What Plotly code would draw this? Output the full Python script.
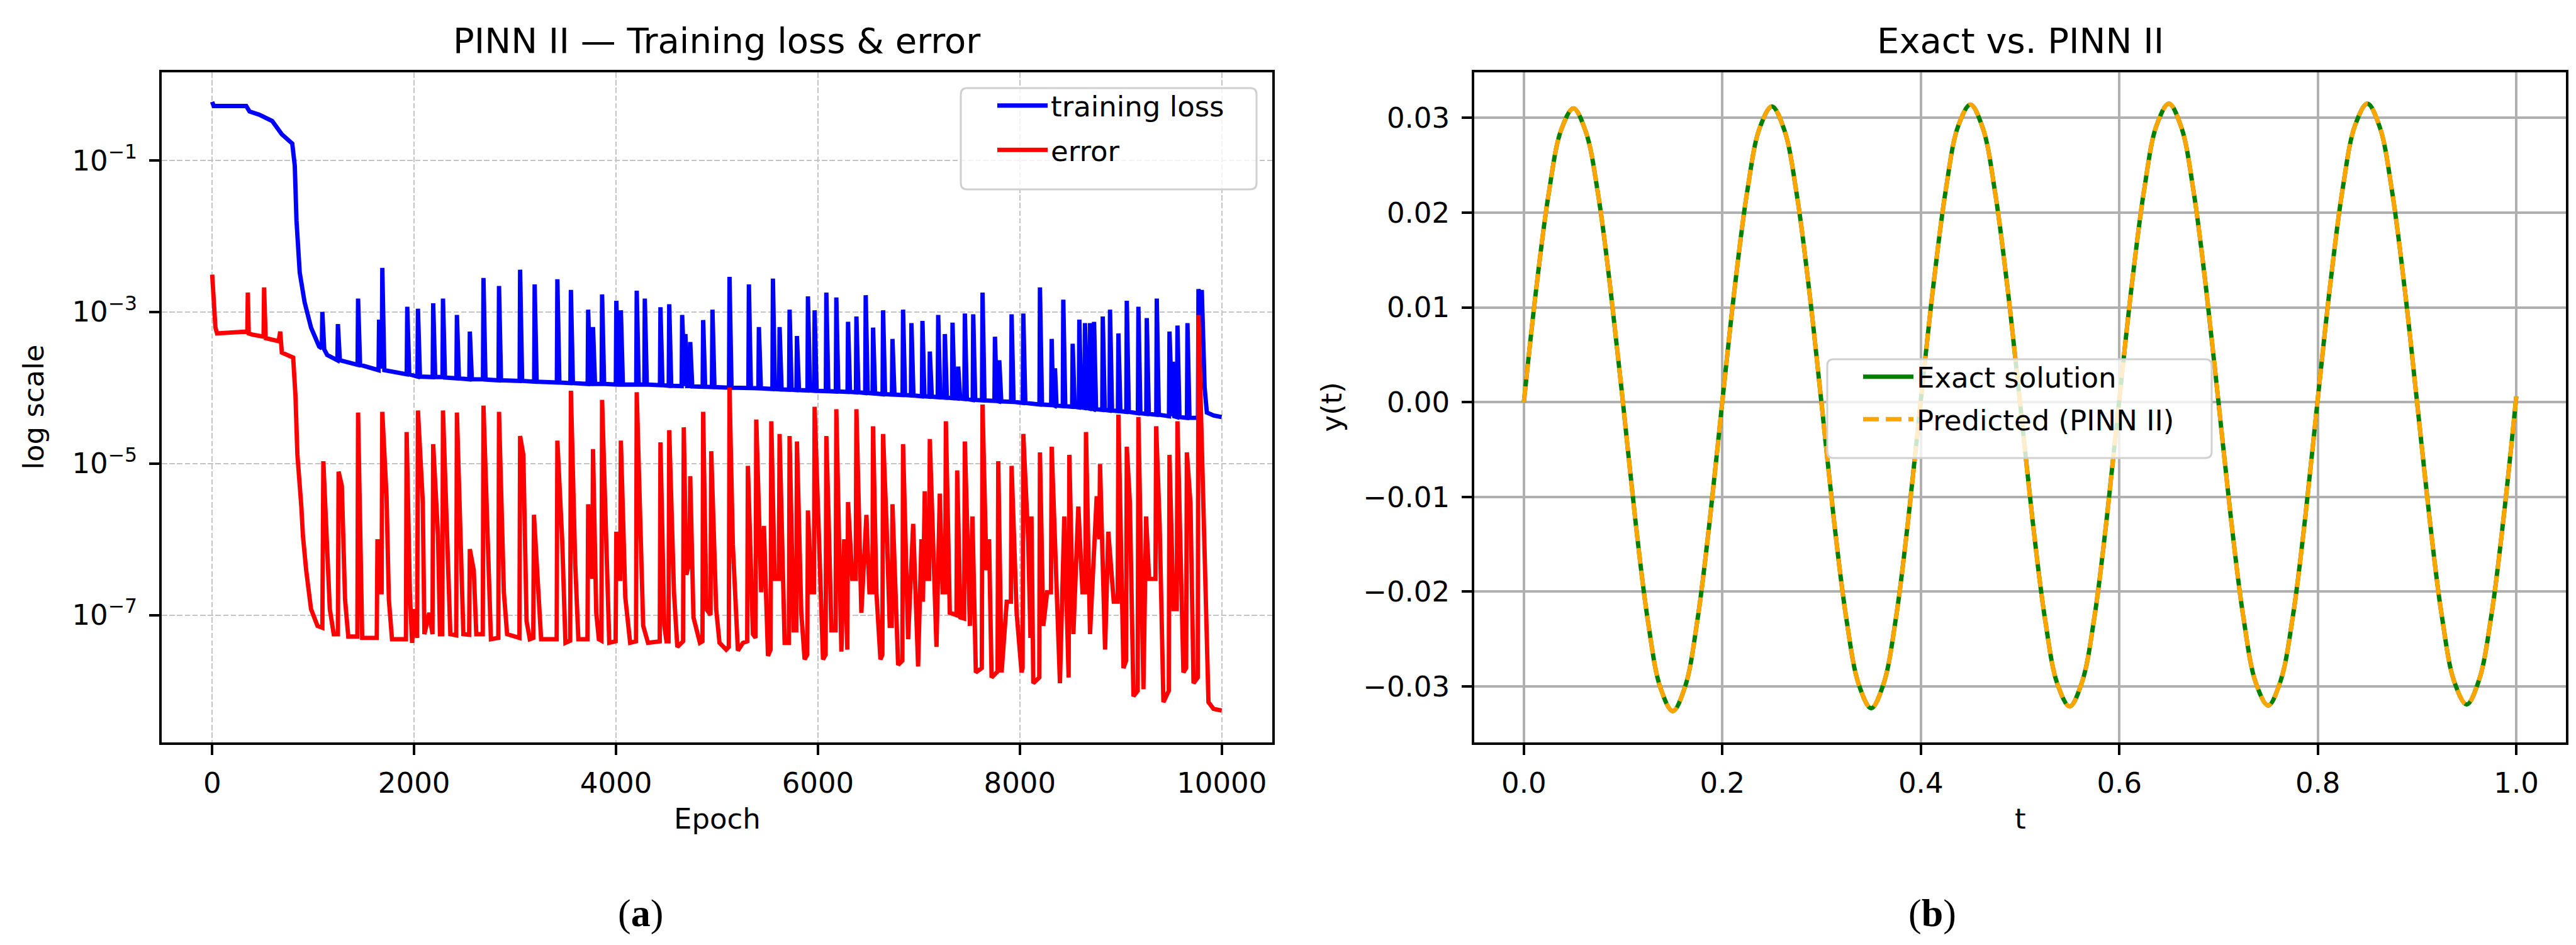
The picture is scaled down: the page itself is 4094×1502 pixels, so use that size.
import plotly.graph_objects as go

W, H = 4094, 1502

# ---------------- data ----------------
x_ticks_epoch = [0, 2000, 4000, 6000, 8000, 10000]
x_ticktext_epoch = ["0", "2000", "4000", "6000", "8000", "10000"]
y_ticks_log = [1e-1, 1e-3, 1e-5, 1e-7]
y_ticktext_log = ["10<sup>\u22121</sup>", "10<sup>\u22123</sup>", "10<sup>\u22125</sup>", "10<sup>\u22127</sup>"]

t_ticks = [0.0, 0.2, 0.4, 0.6, 0.8, 1.0]
t_ticktext = ["0.0", "0.2", "0.4", "0.6", "0.8", "1.0"]
yt_ticks = [-0.03, -0.02, -0.01, 0.0, 0.01, 0.02, 0.03]
yt_ticktext = ["\u22120.03", "\u22120.02", "\u22120.01", "0.00", "0.01", "0.02", "0.03"]

loss_curve = [
    (0, 0.59), (15, 0.52), (337, 0.52), (370, 0.44), (465, 0.40), (594, 0.33), (690, 0.22),
    (793, 0.166), (818, 0.085), (835, 0.016), (867, 3.3e-3), (915, 1.35e-3), (979, 6.2e-4), (1059, 3.5e-4),
    (1086, 3.3e-4), (1091, 1.0e-3), (1110, 3.2e-4), (1139, 2.7e-4),
    (1240, 2.3e-4), (1245, 6.9e-4), (1265, 2.3e-4),
    (1440, 2.0e-4), (1445, 1.5e-3), (1465, 2.0e-4),
    (1648, 1.7e-4), (1653, 7.9e-4), (1670, 2.0e-4), (1680, 1.8e-4), (1685, 3.8e-3), (1705, 1.7e-4),
    (1927, 1.5e-4), (1932, 1.17e-3), (1952, 1.5e-4),
    (2033, 1.4e-4), (2038, 1.1e-3), (2058, 1.4e-4),
    (2184, 1.38e-4), (2189, 1.3e-3), (2209, 1.38e-4),
    (2281, 1.38e-4), (2286, 1.5e-3), (2306, 1.36e-4),
    (2419, 1.33e-4), (2424, 9.1e-4), (2444, 1.33e-4),
    (2547, 1.29e-4), (2552, 5.5e-4), (2572, 1.29e-4),
    (2682, 1.29e-4), (2687, 2.8e-3), (2707, 1.28e-4),
    (2836, 1.25e-4), (2841, 2.2e-3), (2861, 1.25e-4),
    (3045, 1.23e-4), (3050, 3.6e-3), (3070, 1.23e-4),
    (3189, 1.2e-4), (3194, 2.3e-3), (3214, 1.2e-4),
    (3414, 1.17e-4), (3419, 2.7e-3), (3439, 1.17e-4),
    (3548, 1.15e-4), (3553, 1.95e-3), (3573, 1.15e-4),
    (3719, 1.12e-4), (3724, 1.07e-3), (3744, 1.12e-4), (3767, 1.12e-4), (3772, 6.3e-4), (3792, 1.12e-4),
    (3857, 1.12e-4), (3862, 1.7e-3), (3882, 1.12e-4),
    (3998, 1.1e-4), (4003, 1.4e-3), (4023, 1.1e-4), (4043, 1.1e-4), (4048, 1.05e-3), (4068, 1.1e-4),
    (4200, 1.1e-4), (4205, 1.9e-3), (4225, 1.1e-4), (4280, 1.1e-4), (4285, 1.5e-3), (4305, 1.1e-4),
    (4435, 1.08e-4), (4440, 1.15e-3), (4460, 1.08e-4), (4522, 1.06e-4), (4527, 1.26e-3), (4547, 1.06e-4),
    (4650, 1.05e-4), (4655, 9.1e-4), (4672, 1.05e-4), (4682, 1.05e-4), (4687, 5.1e-4), (4705, 1.05e-4),
    (4730, 1.05e-4), (4735, 4.0e-4), (4755, 1.04e-4),
    (4858, 1.03e-4), (4863, 7.8e-4), (4883, 1.03e-4), (4950, 1.02e-4), (4955, 1.07e-3), (4975, 1.02e-4),
    (5119, 1.0e-4), (5124, 2.9e-3), (5144, 1.0e-4),
    (5311, 9.9e-5), (5316, 2.3e-3), (5336, 9.9e-5), (5410, 9.8e-5), (5415, 6.3e-4), (5435, 9.8e-5),
    (5549, 9.6e-5), (5554, 2.75e-3), (5574, 9.6e-5), (5615, 9.5e-5), (5620, 6.3e-4), (5640, 9.5e-5),
    (5714, 9.4e-5), (5719, 1.07e-3), (5739, 9.4e-5), (5787, 9.3e-5), (5792, 4.8e-4), (5812, 9.3e-5),
    (5896, 9.2e-5), (5901, 1.6e-3), (5921, 9.2e-5), (5962, 9.1e-5), (5967, 1.05e-3), (5987, 9.1e-5),
    (6078, 9.0e-5), (6083, 1.8e-3), (6103, 9.0e-5), (6177, 8.9e-5), (6182, 1.55e-3), (6202, 8.9e-5),
    (6293, 8.8e-5), (6298, 7.4e-4), (6318, 8.8e-5), (6376, 8.7e-5), (6381, 8.7e-4), (6401, 8.7e-5),
    (6468, 8.5e-5), (6473, 1.66e-3), (6493, 8.5e-5), (6541, 8.4e-5), (6546, 6.2e-4), (6566, 8.4e-5),
    (6640, 8.2e-5), (6645, 1.05e-3), (6665, 8.2e-5), (6733, 8.1e-5), (6738, 4.4e-4), (6758, 8.1e-5),
    (6838, 8.0e-5), (6843, 1.07e-3), (6863, 8.0e-5), (6921, 7.9e-5), (6926, 7.1e-4), (6946, 7.9e-5),
    (7030, 7.7e-5), (7035, 7.6e-4), (7055, 7.7e-5), (7103, 7.6e-5), (7108, 3.0e-4), (7128, 7.6e-5),
    (7186, 7.5e-5), (7191, 9.1e-4), (7211, 7.5e-5), (7252, 7.4e-5), (7257, 5.1e-4), (7277, 7.4e-5),
    (7328, 7.3e-5), (7333, 7.2e-4), (7353, 7.3e-5), (7384, 7.2e-5), (7389, 1.9e-4), (7409, 7.2e-5),
    (7450, 7.1e-5), (7455, 9.5e-4), (7475, 7.1e-5), (7533, 6.9e-5), (7538, 9.3e-4), (7558, 6.9e-5),
    (7625, 6.8e-5), (7630, 1.8e-3), (7650, 6.8e-5), (7748, 6.7e-5), (7753, 4.7e-4), (7773, 6.7e-5),
    (7791, 6.6e-5), (7796, 2.3e-4), (7816, 6.6e-5),
    (7913, 6.5e-5), (7918, 9.3e-4), (7938, 6.5e-5), (8029, 6.3e-5), (8034, 9.5e-4), (8054, 6.3e-5),
    (8194, 6.0e-5), (8199, 2.1e-3), (8219, 6.0e-5), (8310, 5.9e-5), (8315, 4.4e-4), (8330, 5.9e-5),
    (8343, 5.8e-5), (8348, 1.8e-4), (8363, 5.8e-5),
    (8425, 5.7e-5), (8430, 1.45e-3), (8450, 5.7e-5), (8518, 5.6e-5), (8523, 3.8e-4), (8543, 5.6e-5),
    (8584, 5.5e-5), (8589, 7.9e-4), (8609, 5.5e-5), (8640, 5.4e-5), (8645, 7.1e-4), (8665, 5.4e-5),
    (8690, 5.3e-5), (8695, 7.1e-4), (8712, 5.3e-5), (8730, 5.2e-5), (8735, 7.4e-4), (8755, 5.2e-5),
    (8816, 5.1e-5), (8821, 8.7e-4), (8841, 5.1e-5), (8888, 5.0e-5), (8893, 1.07e-3), (8913, 5.0e-5),
    (8971, 4.9e-5), (8976, 5.2e-4), (8996, 4.9e-5), (9054, 4.8e-5), (9059, 1.4e-3), (9079, 4.8e-5),
    (9169, 4.6e-5), (9174, 1.17e-3), (9194, 4.6e-5), (9252, 4.5e-5), (9257, 8.3e-4), (9277, 4.5e-5),
    (9351, 4.4e-5), (9356, 1.5e-3), (9376, 4.4e-5), (9477, 4.2e-5), (9482, 5.5e-4), (9500, 4.2e-5),
    (9510, 4.2e-5), (9515, 2.2e-4), (9530, 4.2e-5),
    (9556, 4.1e-5), (9561, 6.6e-4), (9581, 4.1e-5), (9655, 4.0e-5), (9660, 7.1e-4), (9680, 4.0e-5),
    (9764, 4.0e-5), (9769, 2.0e-3), (9790, 1.2e-3), (9802, 1.95e-3), (9830, 1.0e-4), (9852, 4.7e-5),
    (9920, 4.3e-5), (9999, 4.1e-5),
]

error_curve = [
    (0, 3.1e-3), (16, 9.8e-4), (32, 6.2e-4), (48, 5.2e-4), (305, 5.6e-4),
    (348, 5.5e-4), (353, 1.8e-3), (362, 5.2e-4), (401, 5.0e-4),
    (509, 4.7e-4), (514, 2.1e-3), (522, 4.5e-4), (530, 4.5e-4), (658, 4.1e-4), (674, 5.5e-4), (690, 2.9e-4),
    (802, 2.5e-4), (825, 7.8e-5), (844, 1.3e-5), (883, 2.7e-6), (899, 1.1e-6), (931, 3.9e-7), (979, 1.2e-7),
    (1043, 7.2e-8), (1091, 6.8e-8),
    (1101, 1.07e-5), (1130, 9.5e-7), (1165, 1.2e-7), (1204, 5.6e-8),
    (1245, 5.6e-8), (1252, 7.8e-6), (1284, 5.1e-6), (1316, 1.6e-7), (1348, 5.2e-8),
    (1438, 5.2e-8), (1445, 4.7e-5), (1486, 5.0e-8),
    (1630, 5.0e-8), (1637, 1.0e-6), (1660, 2.0e-7), (1678, 2.0e-7), (1685, 4.8e-5), (1727, 3.7e-6),
    (1750, 1.6e-7), (1781, 4.8e-8),
    (1919, 4.8e-8), (1926, 2.6e-5), (1958, 2.0e-7), (1980, 4.3e-8), (2006, 1.2e-7), (2030, 5.0e-8),
    (2038, 5.0e-5), (2086, 3.1e-6), (2102, 5.6e-8),
    (2150, 1.07e-7), (2182, 5.6e-8), (2189, 1.8e-5), (2237, 1.1e-6), (2256, 5.6e-8),
    (2279, 5.6e-8), (2286, 5.0e-5), (2327, 1.4e-6), (2359, 5.6e-8),
    (2417, 5.4e-8), (2424, 4.7e-5), (2488, 5.6e-8),
    (2545, 5.5e-8), (2552, 7.4e-7), (2591, 3.9e-7), (2616, 5.6e-8),
    (2680, 5.6e-8), (2687, 5.8e-5), (2729, 1.3e-6), (2761, 4.8e-8),
    (2834, 5.0e-8), (2841, 4.8e-5), (2889, 2.0e-7), (2921, 5.6e-8),
    (3043, 5.0e-8), (3050, 2.3e-5), (3082, 1.3e-5), (3114, 8.3e-8), (3146, 4.8e-8),
    (3180, 5.0e-8), (3187, 2.1e-6), (3226, 2.5e-7), (3258, 4.8e-8),
    (3412, 4.8e-8), (3419, 2.0e-5), (3467, 9.6e-7), (3499, 4.3e-8),
    (3546, 4.6e-8), (3553, 9.1e-5), (3595, 5.0e-7), (3627, 4.8e-8),
    (3717, 4.8e-8), (3724, 2.9e-6), (3745, 8.0e-7), (3765, 3.0e-7), (3772, 1.55e-5), (3804, 1.07e-7),
    (3830, 4.8e-8),
    (3855, 4.6e-8), (3862, 6.9e-5), (3901, 1.6e-6), (3933, 4.3e-8),
    (3996, 4.5e-8), (4003, 1.26e-6), (4022, 3.0e-7), (4041, 3.0e-7), (4048, 2.0e-5), (4092, 1.7e-7),
    (4140, 4.3e-8),
    (4198, 4.5e-8), (4205, 8.7e-5), (4269, 7.2e-8), (4317, 4.3e-8),
    (4433, 4.5e-8), (4440, 1.9e-5), (4478, 7.2e-8), (4500, 4.5e-8),
    (4520, 4.5e-8), (4527, 2.75e-5), (4574, 2.0e-7), (4607, 3.8e-8),
    (4664, 4.5e-8), (4671, 3.0e-5), (4696, 3.4e-7), (4728, 5.0e-7), (4735, 6.8e-6), (4767, 9.3e-8),
    (4831, 4.3e-8),
    (4856, 4.5e-8), (4863, 4.8e-5), (4895, 1.2e-7), (4936, 1.0e-7), (4943, 1.45e-5), (4992, 1.2e-7),
    (5025, 4.3e-8), (5091, 3.5e-8),
    (5117, 3.8e-8), (5124, 1.0e-4), (5157, 8.5e-7), (5207, 3.4e-8),
    (5257, 4.3e-8), (5299, 4.5e-8), (5306, 9.3e-6), (5356, 5.6e-8),
    (5382, 5.0e-8), (5389, 3.8e-5), (5438, 2.0e-7), (5465, 1.5e-6), (5505, 2.9e-8),
    (5531, 3.5e-8), (5538, 3.6e-5), (5571, 3.0e-7), (5613, 3.0e-7), (5620, 2.45e-5), (5670, 4.3e-8),
    (5712, 4.3e-8), (5719, 2.3e-5), (5759, 6.3e-8), (5785, 6.3e-8), (5792, 1.95e-5), (5835, 1.07e-7),
    (5868, 2.6e-8),
    (5894, 3.0e-8), (5901, 2.4e-6), (5935, 2.0e-7), (5960, 2.0e-7), (5967, 5.6e-5), (6017, 3.0e-7),
    (6050, 2.6e-8),
    (6076, 3.0e-8), (6083, 2.3e-5), (6105, 2.0e-6), (6133, 6.3e-8), (6175, 6.3e-8), (6182, 5.2e-5),
    (6232, 3.3e-8), (6260, 1.0e-6),
    (6291, 3.5e-8), (6298, 3.1e-6), (6340, 3.0e-7), (6374, 3.0e-7), (6381, 5.2e-5), (6430, 1.07e-7),
    (6480, 2.1e-6), (6510, 2.0e-7), (6539, 2.0e-7), (6546, 3.1e-5), (6579, 2.0e-7), (6619, 2.6e-8),
    (6638, 3.0e-8), (6645, 2.45e-5), (6680, 1.5e-6), (6711, 7.2e-8), (6731, 7.2e-8), (6738, 2.9e-6),
    (6794, 2.2e-8),
    (6836, 2.5e-8), (6843, 1.8e-5), (6893, 4.8e-8), (6943, 1.6e-6), (6992, 2.1e-8),
    (7025, 1.0e-6), (7040, 1.5e-7), (7058, 4.3e-6), (7075, 3.0e-7), (7101, 3.0e-7), (7108, 2.1e-5),
    (7174, 3.8e-8),
    (7207, 4.0e-6), (7235, 2.0e-7), (7260, 2.0e-7), (7267, 3.6e-5), (7306, 1.07e-7), (7372, 1.0e-7),
    (7379, 8.1e-6), (7412, 9.3e-8),
    (7448, 9.0e-8), (7455, 1.95e-5), (7505, 7.2e-8), (7530, 2.0e-6), (7564, 1.75e-8),
    (7623, 2.0e-8), (7630, 6.0e-5), (7669, 3.9e-7), (7695, 1.0e-6), (7720, 1.5e-8),
    (7779, 1.8e-8), (7786, 1.07e-5), (7819, 1.75e-8), (7870, 1.5e-7), (7911, 1.5e-7), (7918, 9.3e-6),
    (7968, 1.07e-7), (8017, 1.75e-8),
    (8027, 2.0e-8), (8034, 2.45e-5), (8083, 9.6e-7), (8105, 5.0e-8), (8115, 2.0e-6), (8133, 1.26e-8),
    (8192, 1.5e-8), (8199, 1.4e-5), (8232, 7.2e-8), (8270, 2.0e-7), (8308, 2.0e-7), (8315, 1.66e-5),
    (8364, 2.0e-7), (8397, 1.26e-8), (8440, 2.0e-6),
    (8483, 1.5e-8), (8490, 1.3e-5), (8530, 5.6e-8), (8579, 2.7e-6), (8620, 2.0e-7), (8648, 2.0e-7),
    (8655, 2.6e-5), (8695, 5.6e-8), (8761, 3.7e-6), (8787, 1.0e-6), (8794, 9.8e-6), (8844, 3.5e-8),
    (8876, 1.26e-6), (8930, 1.5e-7), (8969, 1.5e-7), (8976, 4.4e-5), (9026, 2.0e-8), (9052, 2.5e-8),
    (9059, 1.66e-5), (9090, 3.0e-6), (9125, 8.5e-9),
    (9167, 1.0e-8), (9174, 4.1e-5), (9224, 1.05e-8), (9250, 2.0e-6), (9280, 3.0e-7), (9343, 3.0e-7),
    (9350, 3.1e-5), (9385, 1.5e-6), (9422, 7.1e-9),
    (9475, 1.0e-8), (9482, 1.3e-5), (9521, 1.2e-7), (9554, 1.2e-7), (9561, 3.6e-5), (9620, 1.75e-8),
    (9647, 2.0e-8), (9654, 1.4e-5), (9690, 3.0e-6), (9720, 1.26e-8),
    (9762, 1.5e-8), (9769, 9.1e-4), (9802, 1.66e-5), (9835, 3.9e-7), (9868, 7.1e-9), (9918, 5.8e-9),
    (9999, 5.5e-9),
]

t_values = [
    0.0, 0.0125, 0.025, 0.0375, 0.05, 0.0625, 0.075, 0.0875, 0.1, 0.1125, 0.125, 0.1375, 0.15, 0.1625, 0.175, 0.1875,
    0.2, 0.2125, 0.225, 0.2375, 0.25, 0.2625, 0.275, 0.2875, 0.3, 0.3125, 0.325, 0.3375, 0.35, 0.3625, 0.375, 0.3875,
    0.4, 0.4125, 0.425, 0.4375, 0.45, 0.4625, 0.475, 0.4875, 0.5, 0.5125, 0.525, 0.5375, 0.55, 0.5625, 0.575, 0.5875,
    0.6, 0.6125, 0.625, 0.6375, 0.65, 0.6625, 0.675, 0.6875, 0.7, 0.7125, 0.725, 0.7375, 0.75, 0.7625, 0.775, 0.7875,
    0.8, 0.8125, 0.825, 0.8375, 0.85, 0.8625, 0.875, 0.8875, 0.9, 0.9125, 0.925, 0.9375, 0.95, 0.9625, 0.975, 0.9875,
    1.0,
]
y_exact = [
    0.0000, 0.0120, 0.0220, 0.0287, 0.0310, 0.0285, 0.0218, 0.0117, -0.0002, -0.0126, -0.0231, -0.0301, -0.0326, -0.0300, -0.0229, -0.0123,
    0.0001, 0.0121, 0.0222, 0.0289, 0.0312, 0.0287, 0.0219, 0.0118, -0.0002, -0.0125, -0.0229, -0.0298, -0.0323, -0.0297, -0.0227, -0.0122,
    0.0002, 0.0122, 0.0223, 0.0291, 0.0314, 0.0289, 0.0220, 0.0119, -0.0001, -0.0124, -0.0228, -0.0297, -0.0321, -0.0295, -0.0226, -0.0121,
    0.0003, 0.0123, 0.0224, 0.0292, 0.0315, 0.0290, 0.0221, 0.0119, -0.0001, -0.0123, -0.0227, -0.0296, -0.0320, -0.0294, -0.0225, -0.0120,
    0.0004, 0.0124, 0.0225, 0.0292, 0.0315, 0.0290, 0.0221, 0.0120, 0.0000, -0.0122, -0.0226, -0.0295, -0.0319, -0.0293, -0.0224, -0.0119,
    0.0006,
]
y_pred = [
    0.0000, 0.0120, 0.0220, 0.0287, 0.0310, 0.0285, 0.0218, 0.0117, -0.0002, -0.0126, -0.0231, -0.0301, -0.0326, -0.0300, -0.0229, -0.0123,
    0.0001, 0.0121, 0.0222, 0.0289, 0.0312, 0.0287, 0.0219, 0.0118, -0.0002, -0.0125, -0.0229, -0.0298, -0.0323, -0.0297, -0.0227, -0.0122,
    0.0002, 0.0122, 0.0223, 0.0291, 0.0314, 0.0289, 0.0220, 0.0119, -0.0001, -0.0124, -0.0228, -0.0297, -0.0321, -0.0295, -0.0226, -0.0121,
    0.0003, 0.0123, 0.0224, 0.0292, 0.0315, 0.0290, 0.0221, 0.0119, -0.0001, -0.0123, -0.0227, -0.0296, -0.0320, -0.0294, -0.0225, -0.0120,
    0.0004, 0.0124, 0.0225, 0.0292, 0.0315, 0.0290, 0.0221, 0.0120, 0.0000, -0.0122, -0.0226, -0.0295, -0.0319, -0.0293, -0.0224, -0.0119,
    0.0006,
]

loss_epoch = [p[0] for p in loss_curve]
loss_value = [p[1] for p in loss_curve]
error_epoch = [p[0] for p in error_curve]
error_value = [p[1] for p in error_curve]

# ---------------- layout helpers (pixel -> paper) ----------------
def fx(px):
    return px / W

def fy(py):
    return 1 - py / H

FONT = "DejaVu Sans"
LW = 6.9          # 1.5 pt lines
SPINE = 3.7       # 0.8 pt spines

fig = go.Figure()
fig.add_trace(go.Scatter(x=loss_epoch, y=loss_value, mode="lines", name="training loss",
                         line=dict(color="#0000ff", width=LW), xaxis="x", yaxis="y",
                         legend="legend", legendgroup="g1"))
fig.add_trace(go.Scatter(x=error_epoch, y=error_value, mode="lines", name="error",
                         line=dict(color="#ff0000", width=LW), xaxis="x", yaxis="y",
                         legend="legend", legendgroup="g2"))
fig.add_trace(go.Scatter(x=t_values, y=y_exact, mode="lines", name="Exact solution",
                         line=dict(color="#008000", width=LW, shape="spline"), xaxis="x2", yaxis="y2",
                         legend="legend2", legendgroup="g3"))
fig.add_trace(go.Scatter(x=t_values, y=y_pred, mode="lines", name="Predicted (PINN II)",
                         line=dict(color="#ffa500", width=LW, shape="spline", dash="25px,11px"),
                         xaxis="x2", yaxis="y2", legend="legend2", legendgroup="g4"))

common = dict(showline=True, mirror=True, linecolor="black", linewidth=SPINE, ticks="outside",
              ticklen=16, tickwidth=SPINE, tickcolor="black", zeroline=False,
              tickfont=dict(family=FONT, size=45, color="black"))

ytop, ybot = 107, 1172
fig.update_layout(
    width=W, height=H, margin=dict(l=0, r=0, t=0, b=0),
    paper_bgcolor="white", plot_bgcolor="white", showlegend=True,
    xaxis=dict(domain=[fx(249), fx(2014)], range=[-500, 10500], tickmode="array",
               tickvals=x_ticks_epoch, ticktext=x_ticktext_epoch, anchor="y", ticklabelstandoff=6,
               showgrid=True, gridcolor="#c4c4c4", gridwidth=2.3, griddash="8.5px,3.7px", **common),
    yaxis=dict(domain=[fy(ybot), fy(ytop)], type="log", range=[-8.68, 0.16], tickmode="array",
               tickvals=y_ticks_log, ticktext=y_ticktext_log, anchor="x", ticklabelstandoff=10,
               showgrid=True, gridcolor="#c4c4c4", gridwidth=2.3, griddash="8.5px,3.7px", **common),
    xaxis2=dict(domain=[fx(2335), fx(4070)], range=[-0.05, 1.05], tickmode="array",
                tickvals=t_ticks, ticktext=t_ticktext, anchor="y2", ticklabelstandoff=6,
                showgrid=True, gridcolor="#b0b0b0", gridwidth=SPINE, **common),
    yaxis2=dict(domain=[fy(ybot), fy(ytop)], range=[-0.0359, 0.0348], tickmode="array",
                tickvals=yt_ticks, ticktext=yt_ticktext, anchor="x2", ticklabelstandoff=10,
                showgrid=True, gridcolor="#b0b0b0", gridwidth=SPINE, **common),
    legend=dict(x=fx(1572), y=fy(124), xanchor="left", yanchor="top", bgcolor="rgba(0,0,0,0)",
                borderwidth=0, font=dict(family=FONT, size=45, color="black"),
                tracegroupgap=9, itemwidth=80),
    legend2=dict(x=fx(2948), y=fy(555), xanchor="left", yanchor="top", bgcolor="rgba(0,0,0,0)",
                 borderwidth=0, font=dict(family=FONT, size=45, color="black"),
                 tracegroupgap=6, itemwidth=80),
)

def rounded_box(x0, y0, x1, y1, r=10):
    X0, X1 = fx(x0), fx(x1)
    Y0, Y1 = fy(y0), fy(y1)
    rx, ry = r / W, r / H
    return (f"M {X0+rx},{Y0} L {X1-rx},{Y0} Q {X1},{Y0} {X1},{Y0-ry} "
            f"L {X1},{Y1+ry} Q {X1},{Y1} {X1-rx},{Y1} L {X0+rx},{Y1} Q {X0},{Y1} {X0},{Y1+ry} "
            f"L {X0},{Y0-ry} Q {X0},{Y0} {X0+rx},{Y0} Z")

shapes = []
for box in [(1519, 132, 1989, 293), (2896, 563, 3507, 720)]:
    shapes.append(dict(type="path", xref="paper", yref="paper", path=rounded_box(*box),
                       fillcolor="rgba(255,255,255,0.8)", line=dict(color="#d0d0d0", width=3),
                       layer="above"))
fig.update_layout(shapes=shapes)

ann = []
ann.append(dict(text="PINN II \u2014 Training loss & error", x=fx((249 + 2014) / 2), y=fy(56),
                xref="paper", yref="paper", showarrow=False, xanchor="center", yanchor="middle",
                font=dict(family=FONT, size=56, color="black")))
ann.append(dict(text="Exact vs. PINN II", x=fx((2335 + 4070) / 2), y=fy(56),
                xref="paper", yref="paper", showarrow=False, xanchor="center", yanchor="middle",
                font=dict(family=FONT, size=56, color="black")))
ann.append(dict(text="Epoch", x=fx((249 + 2014) / 2), y=fy(1293), xref="paper", yref="paper",
                showarrow=False, xanchor="center", yanchor="middle",
                font=dict(family=FONT, size=45, color="black")))
ann.append(dict(text="t", x=fx((2335 + 4070) / 2), y=fy(1293), xref="paper", yref="paper",
                showarrow=False, xanchor="center", yanchor="middle",
                font=dict(family=FONT, size=45, color="black")))
ann.append(dict(text="log scale", x=fx(45), y=fy((ytop + ybot) / 2), xref="paper", yref="paper",
                showarrow=False, xanchor="center", yanchor="middle", textangle=-90,
                font=dict(family=FONT, size=45, color="black")))
ann.append(dict(text="y(t)", x=fx(2108), y=fy((ytop + ybot) / 2), xref="paper", yref="paper",
                showarrow=False, xanchor="center", yanchor="middle", textangle=-90,
                font=dict(family=FONT, size=45, color="black")))
ann.append(dict(text="(<b>a</b>)", x=fx(1010), y=fy(1443), xref="paper", yref="paper",
                showarrow=False, xanchor="center", yanchor="middle",
                font=dict(family="Liberation Serif", size=62, color="black")))
ann.append(dict(text="(<b>b</b>)", x=fx(3063), y=fy(1443), xref="paper", yref="paper",
                showarrow=False, xanchor="center", yanchor="middle",
                font=dict(family="Liberation Serif", size=62, color="black")))
fig.update_layout(annotations=ann)

fig.write_html("out.html")
